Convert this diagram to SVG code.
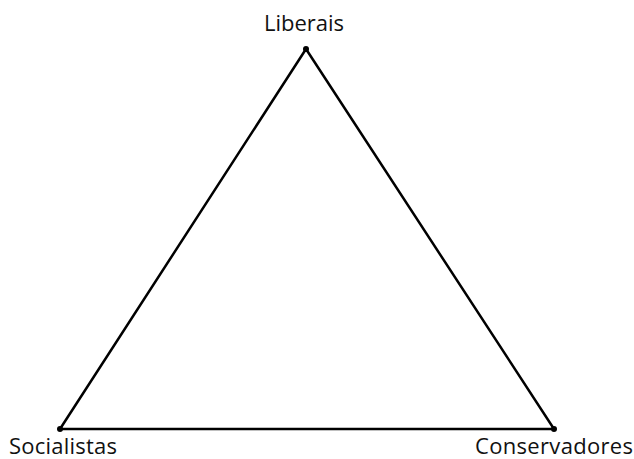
<svg xmlns="http://www.w3.org/2000/svg" width="634" height="459" viewBox="0 0 634 459">
<style>
.lbl{font-family:"Open Sans","Liberation Sans",sans-serif;font-size:22px;fill:#111}
.edge{stroke:#000;stroke-width:2.5;fill:none;stroke-linecap:round}
.pt{fill:#000}
</style>
<rect width="634" height="459" fill="#fff"/>
<g id="connectors">
<line class="edge" x1="306" y1="49" x2="60" y2="429"/>
<line class="edge" x1="306" y1="49" x2="554" y2="429"/>
<line class="edge" x1="60" y1="429" x2="554" y2="429"/>
</g>
<g id="liberais">
<circle class="pt" cx="306" cy="49" r="3"/>
<text class="lbl" x="304" y="31" text-anchor="middle">Liberais</text>
</g>
<g id="socialistas">
<circle class="pt" cx="60" cy="429" r="3"/>
<text class="lbl" x="9" y="454" textLength="108">Socialistas</text>
</g>
<g id="conservadores">
<circle class="pt" cx="554" cy="429" r="3"/>
<text class="lbl" x="475" y="454" textLength="158">Conservadores</text>
</g>
</svg>
